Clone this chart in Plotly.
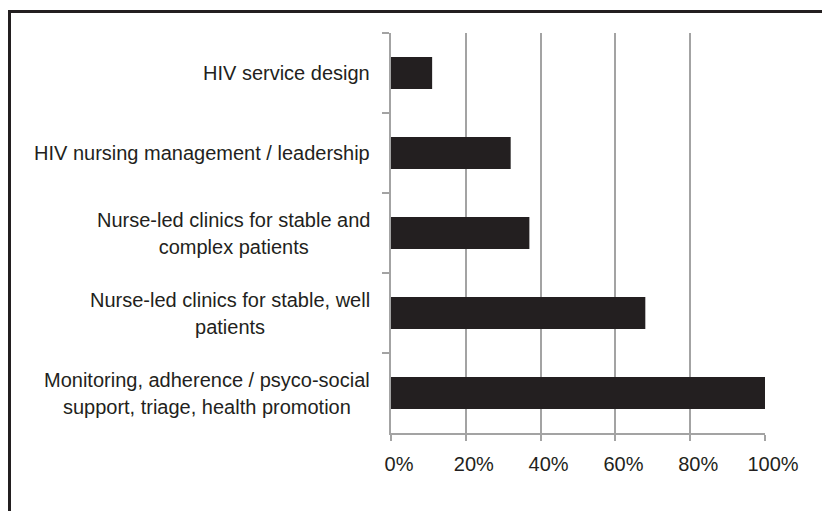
import plotly.graph_objects as go

categories = [
    "HIV service design",
    "HIV nursing management / leadership",
    "Nurse-led clinics for stable and<br>complex patients",
    "Nurse-led clinics for stable, well<br>patients",
    "Monitoring, adherence / psyco-social<br>support, triage, health promotion",
]
values = [11, 32, 37, 68, 100]
x_ticks = [0, 20, 40, 60, 80, 100]
x_tick_labels = ["0%", "20%", "40%", "60%", "80%", "100%"]

OFF = 8  # default page body margin
W, H = 830 - OFF, 511 - OFF
L, T = 391 - OFF, 33 - OFF
R = W - (765 - OFF)
B = H - (433 - OFF)
pw, ph = W - L - R, H - T - B

ink = "#231f20"
grey = "#a3a3a3"
font = "Liberation Sans, Arial, Helvetica, sans-serif"

fig = go.Figure(go.Bar(
    x=values, y=categories, orientation="h",
    marker=dict(color=ink, line=dict(width=0)),
    hoverinfo="skip",
))


def styled(label):
    return "<br>".join('<span style="font-size:20px">%s</span>' % p
                       for p in label.split("<br>"))


ann = [dict(x=0, y=c, xref="paper", yref="y", text=styled(c), showarrow=False,
            xanchor="right", yanchor="middle", align="center", xshift=-19,
            font=dict(family=font, size=21, color=ink)) for c in categories]


def px_x(p):
    return (p - OFF - L) / pw


def px_y(p):
    return (H - B - (p - OFF)) / ph


frame = "M {x0},{y0} L {x0},{y1} L {x1},{y1}".format(
    x0=px_x(9.5), y0=px_y(530), y1=px_y(11.5), x1=px_x(850))

fig.update_layout(
    width=W, height=H,
    margin=dict(l=L, r=R, t=T, b=B, pad=0),
    paper_bgcolor="white", plot_bgcolor="white",
    bargap=0.6,
    showlegend=False,
    annotations=ann,
    shapes=[dict(type="path", path=frame, xref="paper", yref="paper",
                 line=dict(color=ink, width=3))],
    xaxis=dict(range=[0, 100], tickmode="array", tickvals=x_ticks, ticktext=x_tick_labels,
               showgrid=True, gridcolor=grey, gridwidth=1.5,
               showline=True, linecolor=grey, linewidth=1.5,
               ticks="outside", ticklen=6, tickcolor=grey, tickwidth=1.5,
               ticklabelshift=8, ticklabelstandoff=6,
               zeroline=False,
               tickfont=dict(family=font, size=20, color=ink)),
    yaxis=dict(autorange="reversed", showticklabels=False,
               showline=True, linecolor=grey, linewidth=1.5,
               ticks="outside", ticklen=7, tickcolor=grey, tickwidth=1.5,
               tickson="boundaries", showgrid=False, zeroline=False),
)

fig.write_html("out.html")
